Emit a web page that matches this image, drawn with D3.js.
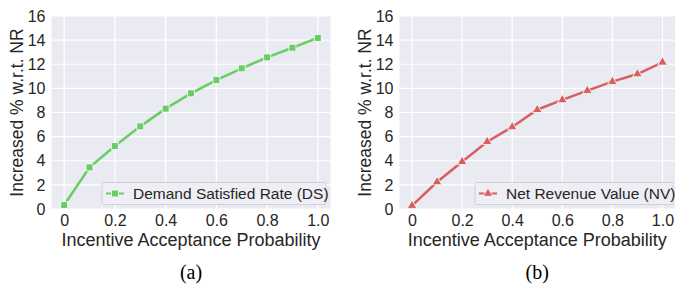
<!DOCTYPE html>
<html>
<head>
<meta charset="utf-8">
<script src="https://cdn.jsdelivr.net/npm/d3@7"></script>
<style>
  body { margin: 0; background: #fff; }
  svg { display: block; }
</style>
</head>
<body>
<div id="chart"></div>
<script>
// data
const probs = [0, 0.1, 0.2, 0.3, 0.4, 0.5, 0.6, 0.7, 0.8, 0.9, 1.0];
const xTicks = [0, 0.2, 0.4, 0.6, 0.8, 1.0];
const xTickLabels = ["0", "0.2", "0.4", "0.6", "0.8", "1.0"];
const yTicks = [0, 2, 4, 6, 8, 10, 12, 14, 16];
const dsValues = [0.33, 3.45, 5.22, 6.85, 8.32, 9.59, 10.69, 11.66, 12.57, 13.37, 14.18];
const nvValues = [0.28, 2.24, 3.92, 5.58, 6.80, 8.23, 9.04, 9.81, 10.56, 11.19, 12.16];

const width = 677, height = 287;
const svg = d3.select("#chart").append("svg")
    .attr("width", width)
    .attr("height", height);

const panels = [
    { left: 51.5, right: 330.5, values: dsValues, color: "#6acc64", marker: d3.symbolSquare,
      markerSize: 48, label: "Demand Satisfied Rate (DS)", caption: "(a)",
      legend: { x: 102, w: 224 } },
    { left: 399.5, right: 675, values: nvValues, color: "#d65f5f", marker: d3.symbolTriangle,
      markerSize: 40, label: "Net Revenue Value (NV)", caption: "(b)",
      legend: { x: 475, w: 198 } }
];

const plotTop = 16, plotBottom = 209;
const font = "'Liberation Sans', Arial, sans-serif";

panels.forEach(p => {
    const x = d3.scaleLinear().domain([-0.05, 1.05]).range([p.left, p.right]);
    const y = d3.scaleLinear().domain([0, 16]).range([plotBottom, plotTop]);

    const g = svg.append("g");

    g.append("rect")
        .attr("x", p.left).attr("y", plotTop)
        .attr("width", p.right - p.left).attr("height", plotBottom - plotTop)
        .attr("fill", "#eaeaf2");

    // grid
    g.selectAll(".gx").data(xTicks).enter().append("line")
        .attr("x1", d => x(d)).attr("x2", d => x(d))
        .attr("y1", plotTop).attr("y2", plotBottom)
        .attr("stroke", "#fff").attr("stroke-width", 1.2);
    g.selectAll(".gy").data(yTicks).enter().append("line")
        .attr("x1", p.left).attr("x2", p.right)
        .attr("y1", d => y(d)).attr("y2", d => y(d))
        .attr("stroke", "#fff").attr("stroke-width", 1.2);

    // axes (labels only, seaborn style)
    const xAxis = g.append("g")
        .attr("transform", `translate(0,${plotBottom})`)
        .call(d3.axisBottom(x).tickValues(xTicks)
            .tickFormat((d, i) => xTickLabels[i]).tickSize(0).tickPadding(6));
    const yAxis = g.append("g")
        .attr("transform", `translate(${p.left},0)`)
        .call(d3.axisLeft(y).tickValues(yTicks).tickSize(0).tickPadding(6));
    [xAxis, yAxis].forEach(a => {
        a.select(".domain").remove();
        a.selectAll("text")
            .attr("font-family", font)
            .attr("font-size", 16)
            .attr("fill", "#262626");
    });

    // axis titles
    g.append("text")
        .attr("x", (x(0) + x(1)) / 2).attr("y", 246)
        .attr("text-anchor", "middle")
        .attr("font-family", font).attr("font-size", 18)
        .attr("fill", "#262626")
        .text("Incentive Acceptance Probability");
    g.append("text")
        .attr("transform", `translate(${p.left - 29},${(plotTop + plotBottom) / 2}) rotate(-90)`)
        .attr("text-anchor", "middle")
        .attr("font-family", font).attr("font-size", 17.5)
        .attr("fill", "#262626")
        .text("Increased % w.r.t. NR");

    // caption
    g.append("text")
        .attr("x", (x(0) + x(1)) / 2).attr("y", 279)
        .attr("text-anchor", "middle")
        .attr("font-family", "'Liberation Serif', 'Times New Roman', serif")
        .attr("font-size", 20)
        .attr("fill", "#000")
        .text(p.caption);

    // line + markers
    const line = d3.line().x((d, i) => x(probs[i])).y(d => y(d));
    g.append("path")
        .datum(p.values)
        .attr("d", line)
        .attr("fill", "none")
        .attr("stroke", p.color)
        .attr("stroke-width", 2.5);

    const sym = d3.symbol().type(p.marker).size(p.markerSize);
    g.selectAll(".pt").data(p.values).enter().append("path")
        .attr("d", sym)
        .attr("transform", (d, i) => `translate(${x(probs[i])},${y(d)})`)
        .attr("fill", p.color)
        .attr("stroke", "#fff")
        .attr("stroke-width", 0.8);

    // legend
    const lg = g.append("g");
    lg.append("rect")
        .attr("x", p.legend.x).attr("y", 182.5)
        .attr("width", p.legend.w).attr("height", 22)
        .attr("rx", 2)
        .attr("fill", "#eeeef4")
        .attr("stroke", "#cccccc").attr("stroke-width", 0.8);
    lg.append("line")
        .attr("x1", p.legend.x + 4).attr("x2", p.legend.x + 22)
        .attr("y1", 193.5).attr("y2", 193.5)
        .attr("stroke", p.color).attr("stroke-width", 2);
    lg.append("path")
        .attr("d", sym)
        .attr("transform", `translate(${p.legend.x + 13},193.5)`)
        .attr("fill", p.color)
        .attr("stroke", "#fff")
        .attr("stroke-width", 0.8);
    lg.append("text")
        .attr("x", p.legend.x + 31).attr("y", 199)
        .attr("font-family", font).attr("font-size", 15.5)
        .attr("fill", "#262626")
        .text(p.label);
});
</script>
</body>
</html>
